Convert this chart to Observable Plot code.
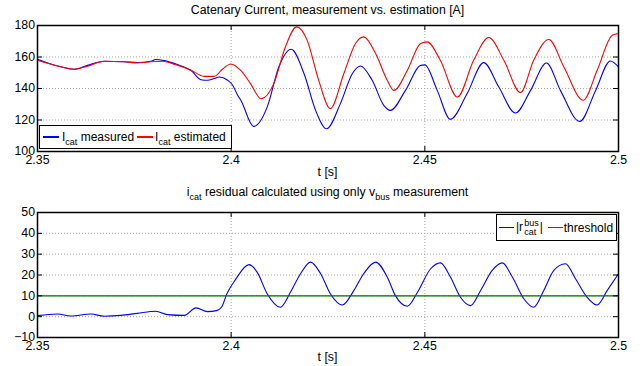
<!DOCTYPE html>
<html>
<head>
<meta charset="utf-8">
<script src="https://cdn.jsdelivr.net/npm/d3@7"></script>
<script src="https://cdn.jsdelivr.net/npm/@observablehq/plot@0.6"></script>
<style>
  body { margin: 0; background: #fff; font-family: "Liberation Sans", Arial, sans-serif; }
  #fig { position: relative; width: 644px; height: 366px; overflow: hidden; background: #fff; }
  #fig svg { position: absolute; left: 0; }
  .txt { position: absolute; white-space: nowrap; font-size: 12.3px; line-height: 14px; color: #000; transform: translateX(-50%); }
  sub { font-size: 9px; vertical-align: -4px; line-height: 0; }
  .legend { position: absolute; border: 1.5px solid #000; background: #fff; box-sizing: border-box;
            font-size: 12px; display: flex; align-items: center; white-space: nowrap; z-index: 2; }
  .swatch { display: inline-block; height: 1.4px; }
  .supsub { display: inline-flex; flex-direction: column; font-size: 9px; line-height: 9px; vertical-align: middle; margin: 0 1px; }
</style>
</head>
<body>
<div id="fig">
  <div class="txt" style="left:327.5px;top:3px">Catenary Current, measurement vs. estimation [A]</div>
  <div class="txt" style="left:327.5px;top:164.5px">t [s]</div>
  <div class="txt" style="left:327.5px;top:184.5px">i<sub>cat</sub> residual calculated using only v<sub>bus</sub> measurement</div>
  <div class="txt" style="left:327.5px;top:349.5px">t [s]</div>

  <div class="legend" style="left:39px;top:125px;width:193px;height:24px">
    <span class="swatch" style="background:#0000ff;margin-left:3px;width:16px"></span>
    <span style="margin-left:3px">I<sub>cat</sub> measured</span>
    <span class="swatch" style="background:#ff0000;margin-left:3px;width:16px"></span>
    <span style="margin-left:2px">I<sub>cat</sub> estimated</span>
  </div>

  <div class="legend" style="left:496px;top:214px;width:121px;height:27px">
    <span class="swatch" style="background:#0000ff;margin-left:2px;width:15px"></span>
    <span style="margin-left:2px">|r<span class="supsub"><span>bus</span><span>cat</span></span>|</span>
    <span class="swatch" style="background:#007000;margin-left:5px;width:15px"></span>
    <span style="margin-left:1px">threshold</span>
  </div>
</div>
<script>
// Catenary current traces [A] against time [s]
const tMeasured = [2.3500, 2.3552, 2.3595, 2.3629, 2.3672, 2.3724, 2.3758, 2.3793, 2.3805, 2.3827,
  2.3861, 2.3896, 2.3922, 2.3939, 2.3956, 2.3969, 2.3991, 2.4003, 2.4016, 2.4026,
  2.4058, 2.4093, 2.4123, 2.4155, 2.4188, 2.4218, 2.4246, 2.4282, 2.4313, 2.4334,
  2.4364, 2.4394, 2.4411, 2.4450, 2.4489, 2.4500, 2.4532, 2.4566, 2.4609, 2.4652,
  2.4691, 2.4734, 2.4773, 2.4814, 2.4850, 2.4900, 2.4941, 2.4979, 2.5000];
const iMeasured = [158.6, 154.3, 152.2, 154.7, 157.3, 157.0, 156.5, 157.3, 158.4, 157.7,
  155.2, 151.6, 145.6, 145.2, 146.3, 147.3, 145.2, 142.4, 136.1, 132.0,
  115.9, 128.2, 153.7, 164.9, 149.5, 126.1, 114.4, 130.4, 149.5, 154.3,
  145.2, 129.3, 126.1, 138.8, 154.7, 155.0, 138.8, 120.4, 136.7, 156.4,
  140.9, 124.4, 138.8, 156.2, 138.8, 119.1, 138.8, 157.5, 153.7];

const tEstimated = [2.3500, 2.3552, 2.3595, 2.3629, 2.3672, 2.3724, 2.3758, 2.3793, 2.3823, 2.3861,
  2.3896, 2.3930, 2.3956, 2.3978, 2.3999, 2.4024, 2.4050, 2.4077, 2.4110, 2.4140,
  2.4169, 2.4196, 2.4226, 2.4256, 2.4291, 2.4321, 2.4342, 2.4373, 2.4403, 2.4420,
  2.4455, 2.4489, 2.4506, 2.4540, 2.4584, 2.4626, 2.4665, 2.4704, 2.4747, 2.4781,
  2.4820, 2.4859, 2.4909, 2.4945, 2.4984, 2.5000];
const iEstimated = [157.9, 154.3, 152.2, 154.1, 157.3, 157.0, 156.2, 157.0, 157.3, 154.7,
  151.6, 147.7, 147.7, 152.4, 155.6, 151.6, 143.1, 133.5, 143.1, 166.4,
  179.1, 170.7, 145.2, 127.2, 149.5, 168.6, 172.8, 162.2, 145.2, 138.8,
  151.6, 168.6, 169.6, 157.9, 134.6, 157.9, 172.4, 157.9, 137.4, 157.9,
  171.1, 153.7, 132.5, 151.6, 173.8, 174.9];

// Residual |r_cat^bus| computed from the bus voltage alone
const tResidual = [2.3500, 2.3552, 2.3586, 2.3638, 2.3672, 2.3715, 2.3758, 2.3805, 2.3836, 2.3879,
  2.3909, 2.3939, 2.3962, 2.3975, 2.3989, 2.4011, 2.4046, 2.4067, 2.4093, 2.4127,
  2.4153, 2.4179, 2.4205, 2.4231, 2.4256, 2.4287, 2.4317, 2.4342, 2.4373, 2.4403,
  2.4424, 2.4455, 2.4481, 2.4515, 2.4540, 2.4566, 2.4592, 2.4618, 2.4644, 2.4674,
  2.4700, 2.4726, 2.4756, 2.4781, 2.4807, 2.4833, 2.4863, 2.4889, 2.4919, 2.4945,
  2.4971, 2.5000];
const rResidual = [0.5, 1.3, 0.3, 1.3, 0.2, 0.6, 1.6, 2.6, 1.0, 0.6,
  4.2, 2.4, 2.9, 4.5, 11.0, 17.8, 25.0, 21.4, 11.0, 4.5,
  11.7, 20.6, 26.2, 20.6, 11.0, 5.6, 12.6, 20.6, 26.2, 19.0,
  10.1, 5.0, 11.7, 23.0, 25.8, 19.0, 9.3, 5.3, 12.6, 22.2,
  25.8, 19.0, 8.5, 4.5, 12.6, 22.2, 25.4, 18.2, 9.3, 5.6,
  12.6, 20.6];
const threshold = 10;

// Axis ticks
const xTicks = [2.35, 2.4, 2.45, 2.5];
const yTicksTop = [100, 120, 140, 160, 180];
const yTicksBottom = [-10, 0, 10, 20, 30, 40, 50];

const pairs = (ts, vs) => ts.map((t, i) => ({t, v: vs[i]}));

function panel({height, marginTop, marginBottom, yTicks, marks}) {
  const width = 644, marginLeft = 37, marginRight = 26;
  const innerW = width - marginLeft - marginRight;
  const innerH = height - marginTop - marginBottom;
  const tick = 5;
  const grid = {stroke: "#a8a8a8", strokeWidth: 1, strokeDasharray: "1,2"};
  return Plot.plot({
    width, height, marginLeft, marginRight, marginTop, marginBottom,
    style: {fontFamily: "'Liberation Sans', Arial, sans-serif", fontSize: "12.3px", color: "#000", background: "transparent", overflow: "visible"},
    x: {domain: [xTicks[0], xTicks[xTicks.length - 1]]},
    y: {domain: [yTicks[0], yTicks[yTicks.length - 1]]},
    marks: [
      Plot.ruleX(xTicks.slice(1, -1), grid),
      Plot.ruleY(yTicks.slice(1, -1), grid),
      ...marks,
      // inward tick marks on all four sides
      Plot.tickX(xTicks, {insetTop: innerH - tick, stroke: "#000"}),
      Plot.tickX(xTicks, {insetBottom: innerH - tick, stroke: "#000"}),
      Plot.tickY(yTicks, {insetRight: innerW - tick, stroke: "#000"}),
      Plot.tickY(yTicks, {insetLeft: innerW - tick, stroke: "#000"}),
      Plot.frame({stroke: "#000", strokeWidth: 1.5}),
      Plot.axisX({ticks: xTicks, anchor: "bottom", tickSize: 0, tickPadding: 4, tickFormat: d3.format("~g"), label: null}),
      Plot.axisY({ticks: yTicks, anchor: "left", tickSize: 0, tickPadding: 2.5, label: null})
    ]
  });
}

const trace = {x: "t", y: "v", strokeWidth: 1.1, curve: "monotone-x"};

const currentPanel = panel({
  height: 180, marginTop: 25, marginBottom: 29, yTicks: yTicksTop,
  marks: [
    Plot.line(pairs(tMeasured, iMeasured), {...trace, stroke: "#0000ff"}),
    Plot.line(pairs(tEstimated, iEstimated), {...trace, stroke: "#ff0000"})
  ]
});
currentPanel.style.top = "0px";

const residualPanel = panel({
  height: 186, marginTop: 32, marginBottom: 29, yTicks: yTicksBottom,
  marks: [
    Plot.line(pairs(tResidual, rResidual), {...trace, stroke: "#0000ff"}),
    Plot.ruleY([threshold], {stroke: "#007000", strokeWidth: 1.2})
  ]
});
residualPanel.style.top = "180px";

const fig = document.getElementById("fig");
fig.insertBefore(residualPanel, fig.firstChild);
fig.insertBefore(currentPanel, fig.firstChild);
</script>
</body>
</html>
